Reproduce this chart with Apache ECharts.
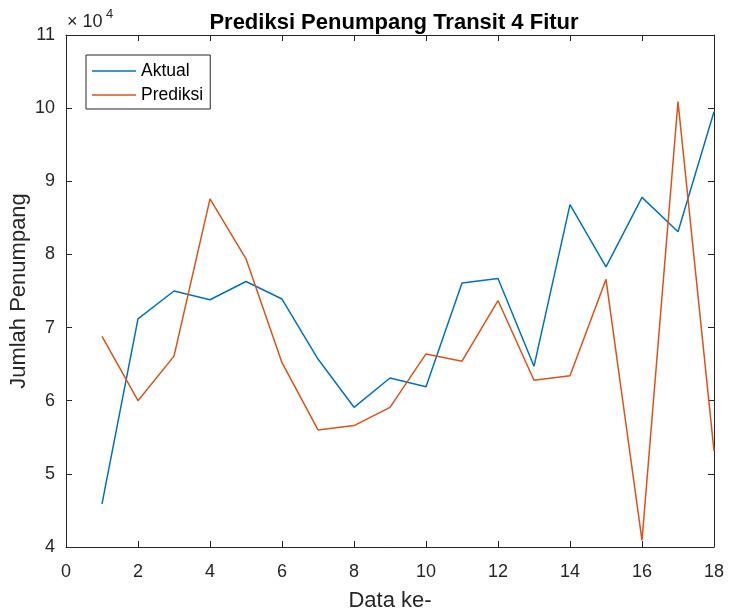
<!DOCTYPE html>
<html><head><meta charset="utf-8">
<script src="https://cdn.jsdelivr.net/npm/echarts@6/dist/echarts.min.js"></script>
<style>html,body{margin:0;padding:0;background:#fff}#c{width:731px;height:611px}</style>
</head><body><div id="c"></div>
<script>
const dataIndex = [1,2,3,4,5,6,7,8,9,10,11,12,13,14,15,16,17,18];
const aktual = [45900,71200,75000,73800,76300,73900,65700,59100,63100,61900,76100,76700,64700,86800,78300,87800,83100,99500];
const prediksi = [68800,60000,66100,87600,79400,65200,56000,56600,59100,66400,65400,73700,62800,63400,76600,40900,100900,53100];
const seriesNames = ['Aktual','Prediksi'];
const seriesColors = ['#0072BD','#D95319'];

const axisCol = '#262626';
const font = 'Liberation Sans, Arial, Helvetica, sans-serif';
const chart = echarts.init(document.getElementById('c'));
const grid = {left:66, right:17, top:35, bottom:64, containLabel:false, outerBoundsMode:'none'};
const mkX = (pos) => ({
  type:'value', min:0, max:18, interval:2, position:pos,
  axisLine:{show:true, onZero:false, lineStyle:{color:axisCol, width:1}},
  axisTick:{show:true, inside:true, length:6, lineStyle:{color:axisCol}},
  axisLabel:{show:pos==='bottom', color:axisCol, fontSize:18, fontFamily:font, margin:16},
  splitLine:{show:false}
});
const mkY = (pos) => ({
  type:'value', min:40000, max:110000, interval:10000, position:pos,
  axisLine:{show:true, onZero:false, lineStyle:{color:axisCol, width:1}},
  axisTick:{show:true, inside:true, length:6, lineStyle:{color:axisCol}},
  axisLabel:{show:pos==='left', color:axisCol, fontSize:18, fontFamily:font, margin:11,
    formatter:(v)=>String(Math.round(v/10000))},
  splitLine:{show:false}
});
chart.setOption({
  animation:false,
  backgroundColor:'#fff',
  title:{text:'Prediksi Penumpang Transit 4 Fitur', left:389, top:7, textAlign:'center',
    textStyle:{fontSize:22, fontWeight:'bold', color:'#000', fontFamily:font}},
  grid:grid,
  legend:{show:true, orient:'vertical', left:86, top:55,
    data:seriesNames.map(n=>({name:n, icon:'rect'})),
    padding:[7,7,5,6], itemGap:6, itemWidth:44, itemHeight:1.5,
    borderColor:'#262626', borderWidth:1, backgroundColor:'#fff',
    textStyle:{fontSize:17.5, lineHeight:18, color:'#000', fontFamily:font}},
  xAxis:[
    Object.assign(mkX('bottom'), {name:'Data ke-', nameLocation:'middle', nameGap:43, nameMoveOverlap:false,
      nameTextStyle:{fontSize:22, color:axisCol, fontFamily:font}}),
    mkX('top')
  ],
  yAxis:[
    Object.assign(mkY('left'), {name:'Jumlah Penumpang', nameLocation:'middle', nameGap:36, nameMoveOverlap:false,
      nameTextStyle:{fontSize:22, color:axisCol, fontFamily:font}}),
    mkY('right')
  ],
  graphic:[
    {type:'text', left:67, top:13, style:{text:'× 10', fill:axisCol, fontSize:18, fontFamily:font}},
    {type:'text', left:106, top:8, style:{text:'4', fill:axisCol, fontSize:13, fontFamily:font}}
  ],
  series:seriesNames.map((n,k)=>({
    name:n, type:'line', symbol:'none', showSymbol:false,
    data:dataIndex.map((x,i)=>[x,(k===0?aktual:prediksi)[i]]),
    lineStyle:{color:seriesColors[k], width:1.5}, itemStyle:{color:seriesColors[k]}
  }))
});
</script></body></html>
